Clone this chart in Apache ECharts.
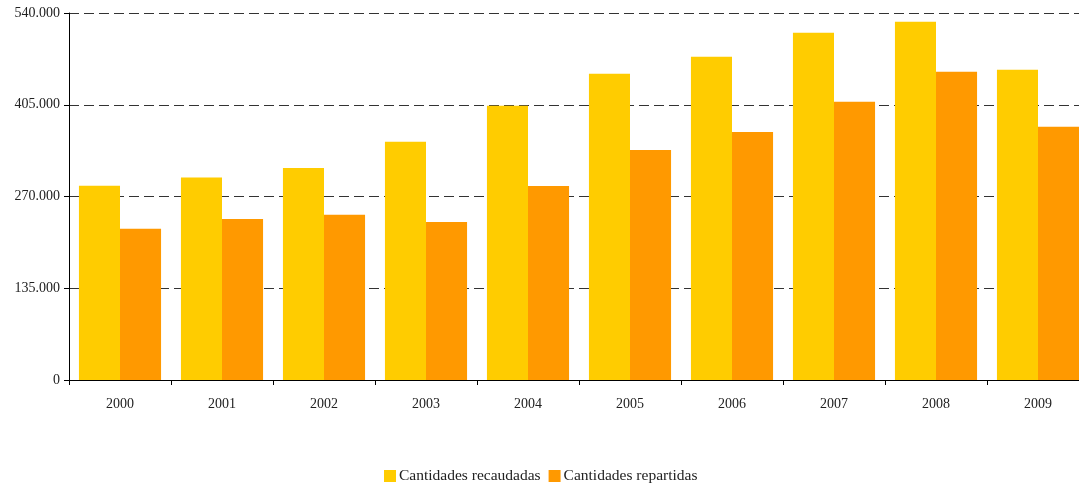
<!DOCTYPE html>
<html>
<head>
<meta charset="utf-8">
<script src="https://cdn.jsdelivr.net/npm/echarts@6/dist/echarts.min.js"></script>
<style>
html,body{margin:0;padding:0;background:#fff;overflow:hidden;width:1079px;height:488px;}
#chart{width:1089px;height:488px;}
</style>
</head>
<body>
<div id="chart"></div>
<script>
var categories = ['2000','2001','2002','2003','2004','2005','2006','2007','2008','2009'];
var recaudadas = [286000, 298000, 312000, 350500, 403500, 450500, 475500, 511000, 527000, 456500];
var repartidas = [222500, 237000, 243000, 232500, 285500, 338500, 365000, 409500, 453500, 372500];
var seriesNames = ['Cantidades recaudadas', 'Cantidades repartidas'];
var yTicks = {min: 0, max: 540000, interval: 135000};

function fmt(v){
  return String(v).replace(/\B(?=(\d{3})+(?!\d))/g, '.');
}

var chart = echarts.init(document.getElementById('chart'));
var font = 'Liberation Serif';
chart.setOption({
  animation: false,
  textStyle: {fontFamily: font},
  grid: {left: 69, right: 0, top: 13, bottom: 108, containLabel: false},
  legend: {
    top: 463, left: 379,
    itemWidth: 12, itemHeight: 12, itemGap: 8,
    icon: 'rect',
    textStyle: {fontFamily: font, fontSize: 15.5, color: '#222', padding: [0,0,0,-2]},
    data: seriesNames
  },
  xAxis: {
    type: 'category',
    data: categories,
    axisLine: {lineStyle: {color: '#000', width: 1}},
    axisTick: {show: true, length: 5, lineStyle: {color: '#000'}},
    axisLabel: {color: '#222', fontSize: 14, margin: 17, fontFamily: font}
  },
  yAxis: {
    type: 'value',
    min: yTicks.min, max: yTicks.max, interval: yTicks.interval,
    axisLine: {show: true, lineStyle: {color: '#000', width: 1}},
    axisTick: {show: true, length: 5, lineStyle: {color: '#000'}},
    axisLabel: {color: '#222', fontSize: 14, margin: 9, fontFamily: font, formatter: fmt},
    splitLine: {show: true, lineStyle: {color: '#333', type: [10, 5], width: 1}}
  },
  series: [
    {name: seriesNames[0], type: 'bar', data: recaudadas, itemStyle: {color: '#FFCC00'}, barGap: '0%', barCategoryGap: '19.5%'},
    {name: seriesNames[1], type: 'bar', data: repartidas, itemStyle: {color: '#FF9900'}, barGap: '0%', barCategoryGap: '19.5%'}
  ]
});
</script>
</body>
</html>
